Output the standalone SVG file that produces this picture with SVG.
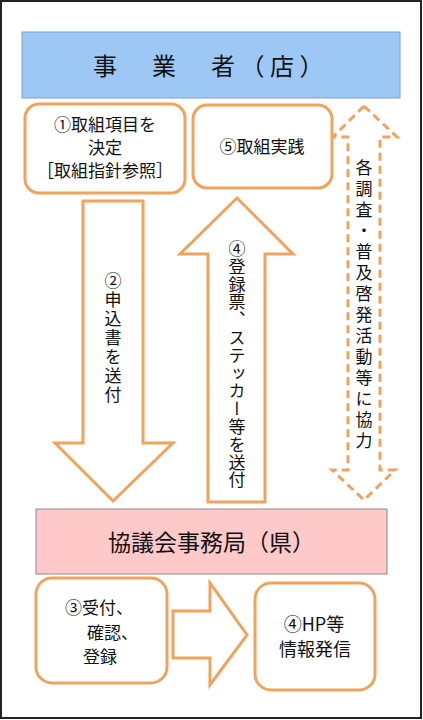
<svg xmlns="http://www.w3.org/2000/svg" width="423" height="720" viewBox="0 0 423 720">
<style>
.t{font-family:"Noto Sans CJK JP","Noto Sans CJK SC",sans-serif;fill:#111;}
.box{fill:#fff;stroke:#F0A35C;stroke-width:3;}
.arr{fill:#fff;stroke:#F0A35C;stroke-width:3;stroke-linejoin:miter;}
.dash{fill:none;stroke:#F0A35C;stroke-width:3;stroke-dasharray:8 5;}
.v{writing-mode:vertical-rl;}
</style>
<rect x="0" y="0" width="423" height="720" fill="#fff"/>
<rect x="1" y="1" width="420" height="717" fill="none" stroke="#222" stroke-width="2"/>
<g id="connectors">
<path class="arr" d="M83,201 H143 V443 H173 L113,501 L55,443 H83 Z"/>
<path class="arr" d="M237,198 L293,254 H265 V502 H208 V254 H180 Z"/>
<path class="dash" d="M364,106 L397,137 H380 V470 H395 L364,500 L332,470 H348 V137 H333 Z"/>
<path class="arr" d="M173,611 H210 V583 L247,635 L210,685 V658 H173 Z"/>
<text class="t v" x="113" y="272" font-size="17" letter-spacing="2">②申込書を送付</text>
<text class="t v" x="237" y="240" font-size="17" letter-spacing="0.8">④登録票、ステッカー等を送付</text>
<text class="t v" x="364" y="159" font-size="17" letter-spacing="4">各調査・普及啓発活動等に協力</text>
</g>
<g id="jigyosha">
<rect x="22" y="32" width="378" height="66" fill="#9DC8F5" stroke="#7FA3C8" stroke-width="1"/>
<text class="t" x="93" y="75" font-size="24" letter-spacing="5.5">事　業　者（店）</text>
</g>
<g id="step1">
<rect class="box" x="25" y="104" width="160" height="89" rx="14"/>
<text class="t" x="105" y="131" font-size="17" text-anchor="middle">①取組項目を</text>
<text class="t" x="105" y="154" font-size="17" text-anchor="middle">決定</text>
<text class="t" x="105" y="177" font-size="17" text-anchor="middle">［取組指針参照］</text>
</g>
<g id="step5">
<rect class="box" x="193" y="105" width="139" height="83" rx="14"/>
<text class="t" x="262" y="153" font-size="17" text-anchor="middle">⑤取組実践</text>
</g>
<g id="kyogikai">
<rect x="36" y="509" width="351" height="65" fill="#FFC9C9" stroke="#8A8A8A" stroke-width="1"/>
<text class="t" x="108" y="551" font-size="23">協議会事務局（県）</text>
</g>
<g id="step3">
<rect class="box" x="36" y="578" width="131" height="105" rx="16"/>
<text class="t" x="65" y="614" font-size="17">③受付、</text>
<text class="t" x="87" y="639" font-size="17">確認、</text>
<text class="t" x="83" y="663" font-size="17">登録</text>
</g>
<g id="step4hp">
<rect class="box" x="255" y="583" width="120" height="107" rx="16"/>
<text class="t" x="314" y="631" font-size="18" text-anchor="middle">④HP等</text>
<text class="t" x="315" y="656" font-size="18" text-anchor="middle">情報発信</text>
</g>
</svg>
